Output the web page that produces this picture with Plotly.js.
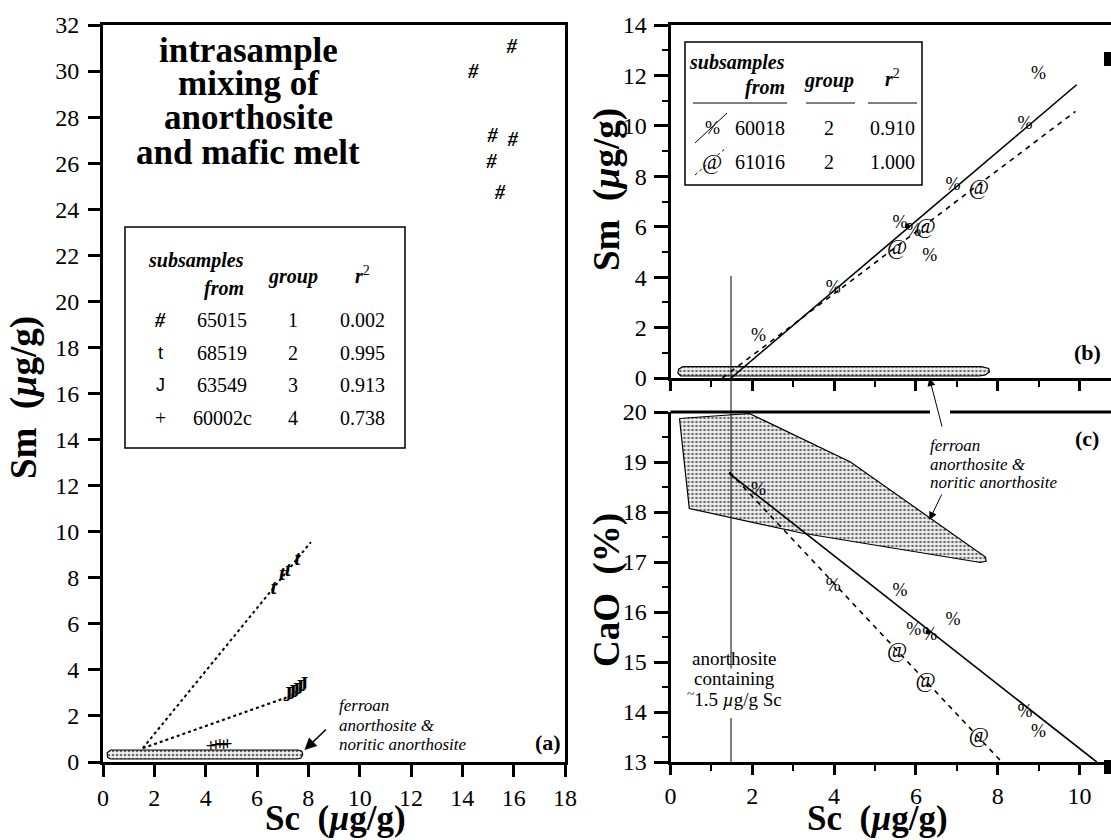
<!DOCTYPE html>
<html>
<head>
<meta charset="utf-8">
<script src="https://cdn.plot.ly/plotly-3.0.1.min.js"></script>
<style>
  html, body { margin: 0; padding: 0; background: #fff; }
  #chart { width: 1111px; height: 840px; }
</style>
</head>
<body>
<div id="chart"></div>
<script>
// ---------- (a) Sm vs Sc, subsamples of four lunar rocks ----------
const sc65015 = [15.93, 14.43, 15.18, 15.96, 15.14, 15.47];
const sm65015 = [30.99, 29.90, 27.15, 26.98, 26.02, 24.66];
const sc68519 = [6.65, 6.98, 7.20, 7.57];
const sm68519 = [7.54, 8.12, 8.31, 8.80];
const sc63549 = [7.20, 7.35, 7.50, 7.65, 7.80];
const sm63549 = [2.85, 2.95, 3.05, 3.15, 3.30];
const sc60002 = [4.20, 4.40, 4.55, 4.70, 4.85];
const sm60002 = [0.62, 0.66, 0.70, 0.66, 0.72];
// mixing trends out of the anorthosite end-member
const mix68519Sc = [1.55, 8.10];
const mix68519Sm = [0.60, 9.55];
const mix63549Sc = [1.55, 7.15];
const mix63549Sm = [0.60, 2.80];
// ferroan anorthosite & noritic anorthosite field
const faFieldScA = [0.30, 0.18, 0.16, 0.30, 7.60, 7.75, 7.78, 7.70, 7.55, 0.30];
const faFieldSmA = [0.13, 0.20, 0.40, 0.52, 0.52, 0.47, 0.32, 0.16, 0.13, 0.13];

// legend table of panel (a)
const tabASymbols = ['#', 't', 'J', '+'];
const tabASamples = ['65015', '68519', '63549', '60002c'];
const tabAGroups  = ['1', '2', '3', '4'];
const tabAR2      = ['0.002', '0.995', '0.913', '0.738'];

// ---------- (b) Sm vs Sc and (c) CaO vs Sc ----------
const sc60018  = [2.15, 3.98, 5.61, 5.95, 6.34, 6.91, 8.67, 9.00];
const sm60018  = [1.64, 3.56, 6.14, 5.80, 4.82, 7.62, 10.05, 12.02];
const cao60018 = [18.44, 16.51, 16.41, 15.64, 15.54, 15.84, 14.00, 13.60];
const sc61016  = [5.54, 6.24, 7.54];
const sm61016  = [5.15, 5.98, 7.52];
const cao61016 = [15.21, 14.61, 13.51];
// mean points
const meanScB = [5.79], meanSmB = [6.03];
const meanScC = [6.30], meanCaoC = [15.60];
// regression lines
const fit60018SmSc  = [1.48, 9.93],  fit60018Sm  = [0.00, 11.63];
const fit61016SmSc  = [1.27, 9.90],  fit61016Sm  = [0.00, 10.57];
const fit60018CaoSc = [1.44, 10.42], fit60018Cao = [18.77, 13.00];
const fit61016CaoSc = [1.44, 8.10],  fit61016Cao = [18.80, 13.00];
// ferroan anorthosite field in (b) and (c)
const faFieldScB = [0.25, 0.18, 0.20, 0.30, 7.60, 7.78, 7.80, 7.70, 7.55, 0.25];
const faFieldSmB = [0.08, 0.20, 0.35, 0.45, 0.45, 0.38, 0.25, 0.12, 0.08, 0.08];
const faFieldScC = [0.22, 1.93, 4.40, 7.70, 7.72, 7.58, 3.20, 0.46, 0.22];
const faFieldCaoC = [19.87, 19.97, 19.00, 17.10, 17.02, 16.99, 17.58, 18.07, 19.87];
// anorthosite with ~1.5 ug/g Sc
const anorthSc = 1.48;

const tabBSymbols = ['%', '@'];
const tabBSamples = ['60018', '61016'];
const tabBGroups  = ['2', '2'];
const tabBR2      = ['0.910', '1.000'];

// ---------- geometry ----------
const W = 1111, H = 840;
const SERIF = 'Liberation Serif';
const px = v => v / W;
const py = v => 1 - v / H;

const domXA = [px(103), px(565)], domYA = [py(762), py(25)];
const domXR = [px(670.5), 1];
const domYB = [py(378), py(25)], domYC = [py(762), py(412)];
const rngA_x = [0, 18], rngA_y = [0, 32];
const rngR_x = [0, (W - 670.5) / 40.9];
const rngB_y = [0, 14], rngC_y = [13, 20];
const toPaper = (v, dom, rng) => dom[0] + (v - rng[0]) / (rng[1] - rng[0]) * (dom[1] - dom[0]);

const pattern = { shape: '.', bgcolor: '#f2f2f2', fgcolor: '#6a6a6a', size: 4, solidity: 0.35 };

function textTrace(x, y, sym, size, xa, ya) {
  return {
    x: x, y: y, xaxis: xa, yaxis: ya, mode: 'text',
    text: x.map(() => sym), textposition: 'middle center',
    textfont: { family: SERIF, size: size, color: '#000' },
    cliponaxis: false, hoverinfo: 'skip'
  };
}
function lineTrace(x, y, xa, ya, dash, width) {
  return { x: x, y: y, xaxis: xa, yaxis: ya, mode: 'lines',
    line: { color: '#000', width: width, dash: dash }, hoverinfo: 'skip' };
}
function fieldTrace(x, y, xa, ya) {
  return { x: x, y: y, xaxis: xa, yaxis: ya, mode: 'lines', fill: 'toself',
    fillcolor: '#f2f2f2', fillpattern: pattern,
    line: { color: '#000', width: 1.2 }, hoverinfo: 'skip' };
}

const traces = [
  // panel (a)
  fieldTrace(faFieldScA, faFieldSmA, 'x', 'y'),
  lineTrace(mix68519Sc, mix68519Sm, 'x', 'y', 'dot', 2),
  lineTrace(mix63549Sc, mix63549Sm, 'x', 'y', 'dot', 2),
  textTrace(sc65015, sm65015, '<b><i>#</i></b>', 20, 'x', 'y'),
  textTrace(sc68519, sm68519, '<b><i>t</i></b>', 22, 'x', 'y'),
  textTrace(sc63549, sm63549, '<b>J</b>', 20, 'x', 'y'),
  textTrace(sc60002, sm60002, '<b>+</b>', 18, 'x', 'y'),
  // panel (b)
  fieldTrace(faFieldScB, faFieldSmB, 'x2', 'y2'),
  lineTrace(fit60018SmSc, fit60018Sm, 'x2', 'y2', 'solid', 1.6),
  lineTrace(fit61016SmSc, fit61016Sm, 'x2', 'y2', '5px,5px', 1.6),
  textTrace(sc60018, sm60018, '%', 18, 'x2', 'y2'),
  textTrace(sc61016, sm61016, '@', 22, 'x2', 'y2'),
  { x: meanScB, y: meanSmB, xaxis: 'x2', yaxis: 'y2', mode: 'markers',
    marker: { color: '#000', size: 5 }, hoverinfo: 'skip' },
  // panel (c)
  fieldTrace(faFieldScC, faFieldCaoC, 'x3', 'y3'),
  lineTrace(fit60018CaoSc, fit60018Cao, 'x3', 'y3', 'solid', 1.6),
  lineTrace(fit61016CaoSc, fit61016Cao, 'x3', 'y3', '5px,5px', 1.6),
  textTrace(sc60018, cao60018, '%', 18, 'x3', 'y3'),
  textTrace(sc61016, cao61016, '@', 22, 'x3', 'y3'),
  { x: meanScC, y: meanCaoC, xaxis: 'x3', yaxis: 'y3', mode: 'markers',
    marker: { color: '#000', size: 5 }, hoverinfo: 'skip' }
];

const tickFont = { family: SERIF, size: 24, color: '#000' };
const baseAxis = {
  showgrid: false, zeroline: false, showline: true, linecolor: '#000', linewidth: 3,
  ticks: 'outside', tickcolor: '#000', tickwidth: 3, tickfont: tickFont, fixedrange: true
};
const minorTicks = (d) => ({ dtick: d, ticks: 'outside', ticklen: 6, tickwidth: 2, tickcolor: '#000' });

const layout = {
  width: W, height: H, margin: { l: 0, r: 0, t: 0, b: 0 },
  paper_bgcolor: '#fff', plot_bgcolor: 'rgba(0,0,0,0)', showlegend: false,
  font: { family: SERIF, color: '#000' },
  xaxis: Object.assign({}, baseAxis, { domain: domXA, range: rngA_x, dtick: 2, ticklen: 12,
    mirror: true, anchor: 'y' }),
  yaxis: Object.assign({}, baseAxis, { domain: domYA, range: rngA_y, dtick: 2, ticklen: 12,
    mirror: true, anchor: 'x', ticklabelstandoff: 4 }),
  xaxis2: Object.assign({}, baseAxis, { domain: domXR, range: rngR_x, dtick: 2, ticklen: 10,
    showticklabels: false, mirror: true, anchor: 'y2', minor: minorTicks(1) }),
  yaxis2: Object.assign({}, baseAxis, { domain: domYB, range: rngB_y, dtick: 2, ticklen: 14,
    anchor: 'x2', ticklabelstandoff: 2, minor: minorTicks(1) }),
  xaxis3: Object.assign({}, baseAxis, { domain: domXR, range: rngR_x, dtick: 2, ticklen: 10,
    anchor: 'y3', minor: minorTicks(1) }),
  yaxis3: Object.assign({}, baseAxis, { domain: domYC, range: rngC_y, dtick: 1, ticklen: 14,
    anchor: 'x3', ticklabelstandoff: 2, minor: minorTicks(0.5) }),
  shapes: [],
  annotations: []
};

const S = layout.shapes, A = layout.annotations;
function note(text, x, y, size, opts) {
  A.push(Object.assign({ text: text, x: px(x), y: py(y), xref: 'paper', yref: 'paper',
    showarrow: false, xanchor: 'center', yanchor: 'middle',
    font: { family: SERIF, size: size, color: '#000' } }, opts || {}));
}
function pline(x0, y0, x1, y1, w, dash) {
  S.push({ type: 'line', xref: 'paper', yref: 'paper', x0: px(x0), y0: py(y0), x1: px(x1), y1: py(y1),
    line: { color: '#000', width: w, dash: dash || 'solid' } });
}

// panel (c) top frame, interrupted where the arrow passes
pline(670.5, 412, 930, 412, 3);
pline(950, 412, 1111, 412, 3);
// anorthosite with ~1.5 ug/g Sc: vertical reference line
S.push({ type: 'line', xref: 'x2', yref: 'paper', x0: anorthSc, x1: anorthSc,
  y0: toPaper(4.05, domYB, rngB_y), y1: toPaper(14.87, domYC, rngC_y),
  line: { color: '#000', width: 1 } });
S.push({ type: 'line', xref: 'x3', yref: 'y3', x0: anorthSc, x1: anorthSc, y0: 13.88, y1: 13,
  line: { color: '#000', width: 1 } });
// corner marks
S.push({ type: 'rect', xref: 'paper', yref: 'paper', x0: px(1104), x1: px(1111), y0: py(66), y1: py(52),
  fillcolor: '#000', line: { width: 0 } });
S.push({ type: 'rect', xref: 'paper', yref: 'paper', x0: px(1104), x1: px(1111), y0: py(774), y1: py(760),
  fillcolor: '#000', line: { width: 0 } });

// panel (a) heading
note('<b>intrasample</b>', 248, 50, 35);
note('<b>mixing of</b>', 248, 84, 35);
note('<b>anorthosite</b>', 248, 118, 35);
note('<b>and mafic melt</b>', 248, 152, 35);

// panel (a) table
S.push({ type: 'rect', xref: 'paper', yref: 'paper', x0: px(125), x1: px(405), y0: py(448), y1: py(227),
  line: { color: '#000', width: 1.5 }, fillcolor: 'rgba(0,0,0,0)' });
note('<b><i>subsamples</i></b>', 246, 260, 20, { xanchor: 'right' });
note('<b><i>from</i></b>', 246, 288, 20, { xanchor: 'right' });
note('<b><i>group</i></b>', 293, 277, 20);
note('<b><i>r</i></b><sup>2</sup>', 362, 275, 20);
tabASymbols.forEach((s, i) => {
  const y = 320 + i * 32.5;
  note(i === 0 ? '<b><i>' + s + '</i></b>' : s, 160, y, 20,
    i === 1 || i === 2 ? { font: { family: 'Liberation Sans', size: 18, color: '#000' } } : {});
  note(tabASamples[i], 222, y, 20);
  note(tabAGroups[i], 293, y, 20);
  note(tabAR2[i], 362, y, 20);
});

// panel (b) table
S.push({ type: 'rect', xref: 'paper', yref: 'paper', x0: px(685), x1: px(922), y0: py(185), y1: py(42),
  line: { color: '#000', width: 1.5 }, fillcolor: 'rgba(0,0,0,0)' });
note('<b><i>subsamples</i></b>', 787, 63, 20, { xanchor: 'right' });
note('<b><i>from</i></b>', 787, 88, 20, { xanchor: 'right' });
note('<b><i>group</i></b>', 829, 80, 20);
note('<b><i>r</i></b><sup>2</sup>', 892, 78, 20);
pline(693, 103, 787, 103, 1);
pline(806, 103, 855, 103, 1);
pline(868, 103, 917, 103, 1);
tabBSymbols.forEach((s, i) => {
  const y = 128 + i * 33.5;
  note(s, 712, y, i === 0 ? 18 : 22);
  note(tabBSamples[i], 760, y, 20);
  note(tabBGroups[i], 829, y, 20);
  note(tabBR2[i], 892, y, 20);
});
pline(695, 143, 727, 113, 1);
pline(695, 175, 727, 147, 1, '3px,3px');

// field labels and arrows
note('<i>ferroan</i>', 337, 705, 17, { xanchor: 'left' });
note('<i>anorthosite &amp;</i>', 337, 725, 17, { xanchor: 'left' });
note('<i>noritic anorthosite</i>', 337, 744, 17, { xanchor: 'left' });
A.push({ xref: 'x', yref: 'y', x: 7.85, y: 0.52, ax: 23, ay: -22, text: '', showarrow: true,
  arrowhead: 2, arrowsize: 1.6, arrowwidth: 1.5, arrowcolor: '#000', standoff: 0 });

note('<i>ferroan</i>', 928, 445, 17, { xanchor: 'left' });
note('<i>anorthosite &amp;</i>', 928, 464, 17, { xanchor: 'left' });
note('<i>noritic anorthosite</i>', 928, 483, 17, { xanchor: 'left' });
A.push({ xref: 'x2', yref: 'y2', x: 6.33, y: 0, ax: 13, ay: 50, text: '', showarrow: true,
  arrowhead: 2, arrowsize: 1.6, arrowwidth: 1, arrowcolor: '#000', standoff: 0 });
A.push({ xref: 'x3', yref: 'y3', x: 6.33, y: 17.84, ax: 13, ay: -27, text: '', showarrow: true,
  arrowhead: 2, arrowsize: 1.6, arrowwidth: 1, arrowcolor: '#000', standoff: 0 });

note('anorthosite', 734, 658, 19);
note('containing', 734, 678, 19);
note('<sup>~</sup>1.5 <i>µ</i>g/g Sc', 734, 698, 19);

// panel letters
note('<b>(a)</b>', 548, 742, 22);
note('<b>(b)</b>', 1087, 352, 22);
note('<b>(c)</b>', 1087, 438, 22);

// axis titles
note('<b>Sc  (<i>µ</i>g/g)</b>', 335, 818, 35);
note('<b>Sc  (<i>µ</i>g/g)</b>', 877, 818, 35);
note('<b>Sm  (<i>µ</i>g/g)</b>', 24, 398, 37, { textangle: -90 });
note('<b>Sm  (<i>µ</i>g/g)</b>', 607, 190, 37, { textangle: -90 });
note('<b>CaO  (%)</b>', 607, 590, 37, { textangle: -90 });

Plotly.newPlot('chart', traces, layout, { staticPlot: true, displayModeBar: false });
</script>
</body>
</html>
